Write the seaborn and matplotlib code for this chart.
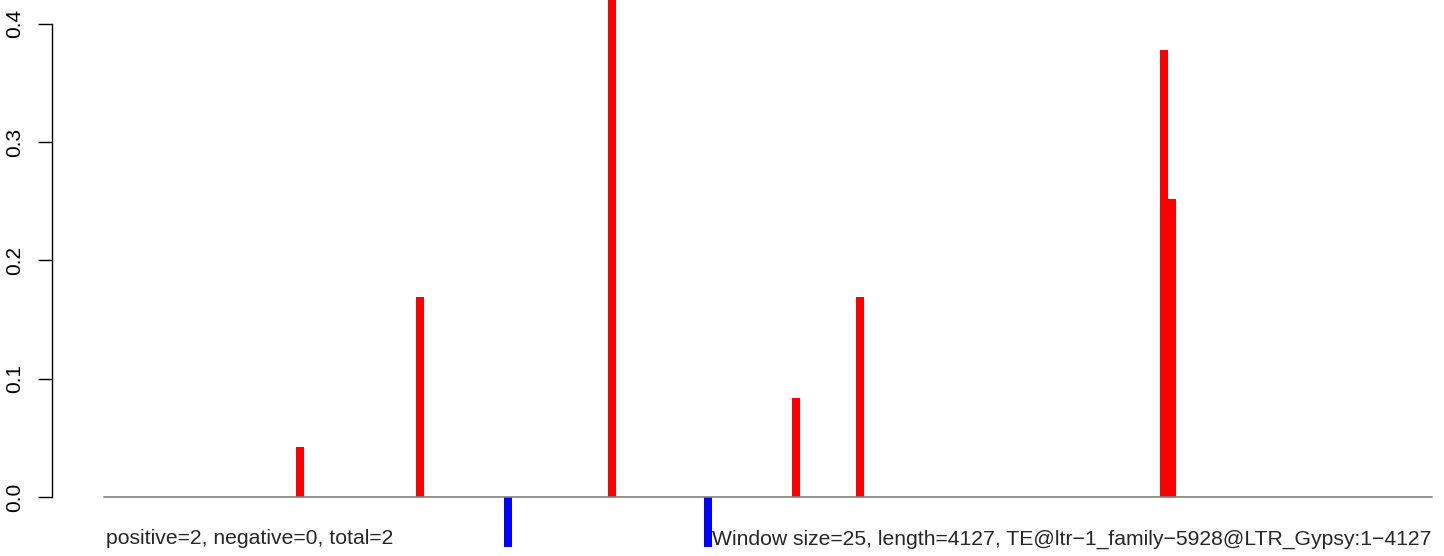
import matplotlib
matplotlib.use("Agg")
import matplotlib.pyplot as plt
import seaborn as sns
import pandas as pd

# window index (25 bp windows) and signal value
windows = [24, 39, 50, 63, 75, 86, 94, 132, 133]
values = [0.042, 0.169, -0.042, 0.5, -0.042, 0.084, 0.169, 0.378, 0.252]
n_windows = 166
y_ticks = [0.0, 0.1, 0.2, 0.3, 0.4]
left_note = "positive=2, negative=0, total=2"
right_note = "Window size=25, length=4127, TE@ltr\u22121_family\u22125928@LTR_Gypsy:1\u22124127"

sns.set_style("white")
plt.rcParams["font.family"] = ["Liberation Sans", "DejaVu Sans"]

df = pd.DataFrame({"pos": [w + 0.5 for w in windows], "value": values})
df["sign"] = ["pos" if v > 0 else "neg" for v in values]

fig = plt.figure(figsize=(14.44, 5.56), dpi=100)
ax = fig.add_axes([0, 0, 1, 1])

sns.barplot(data=df, x="pos", y="value", hue="sign", native_scale=True,
            palette={"pos": "#ff0000", "neg": "#0000ff"}, width=1.0,
            dodge=False, legend=False, ax=ax, linewidth=0, saturation=1)

# baseline
ax.plot([0, n_windows], [0, 0], color="#808080", lw=1.2, zorder=1)

ax.set_xlim(-13, 167.5)
ax.set_ylim(-0.0499, 0.4201)
ax.set_xlabel("")
ax.set_ylabel("")

for s in ["top", "right", "bottom"]:
    ax.spines[s].set_visible(False)
ax.spines["left"].set_position(("data", -6.5))
ax.spines["left"].set_bounds(0, 0.4)
ax.spines["left"].set_color("black")
ax.spines["left"].set_linewidth(1)
ax.set_xticks([])
ax.set_yticks(y_ticks)
ax.set_yticklabels([f"{t:.1f}" for t in y_ticks], rotation=90, va="center")
ax.tick_params(axis="y", direction="out", length=10, width=1, pad=10,
               labelsize=15, left=True, colors="black")

ax.text(0.2, -0.0355, left_note, fontsize=15.2, ha="left", va="center")
ax.text(166, -0.0355, right_note, fontsize=15.2, ha="right", va="center")

fig.savefig("out.png", dpi=100)
